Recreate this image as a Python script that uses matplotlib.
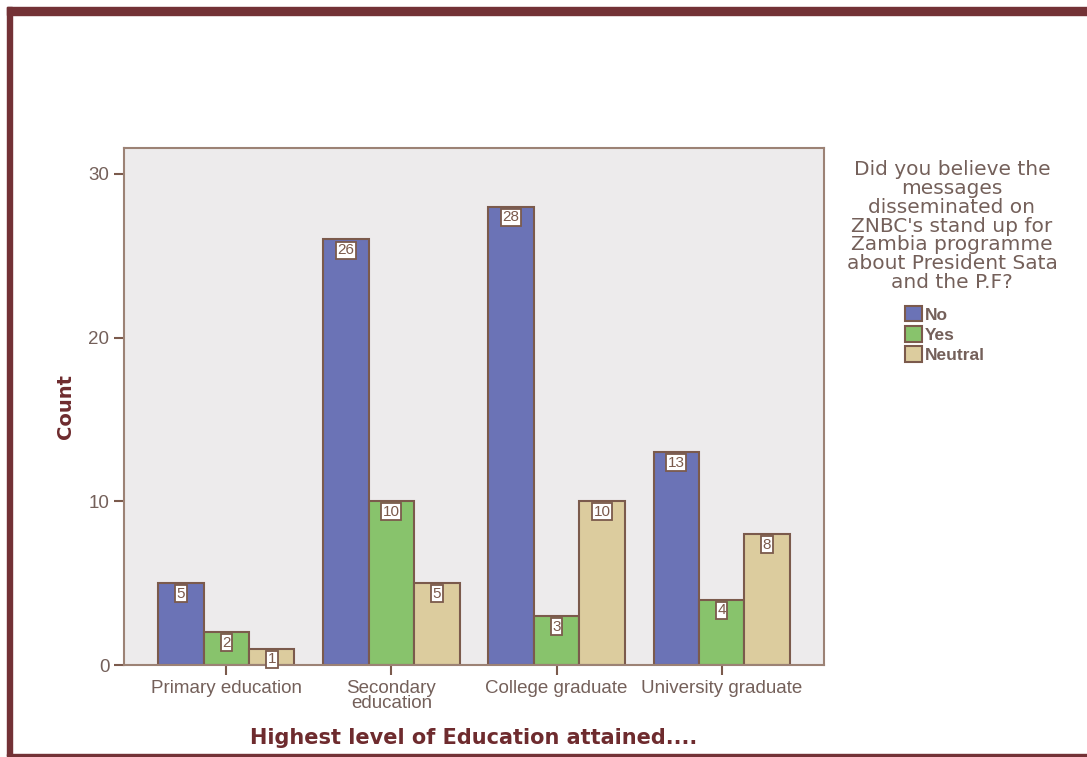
import numpy as np
import matplotlib.pyplot as plt
from matplotlib.patches import Rectangle

# survey counts by education level
categories = ["Primary education", "Secondary\neducation", "College graduate", "University graduate"]
responses = ["No", "Yes", "Neutral"]
no_counts = [5, 26, 28, 13]
yes_counts = [2, 10, 3, 4]
neutral_counts = [1, 5, 10, 8]
legend_title = ("Did you believe the\nmessages\ndisseminated on\nZNBC's stand up for\n"
                "Zambia programme\nabout President Sata\nand the P.F?")

colors = ["#6b73b6", "#88c36c", "#dccc9e"]
edge = "#7b5a4c"
text_col = "#74605a"
title_col = "#6e2b2e"
frame_col = "#733236"
arial = "Liberation Sans"

fig = plt.figure(figsize=(10.87, 7.57), dpi=100)

# outer frame: thick top and left, thin bottom
W, H = 1087, 757
fig.patches.append(Rectangle((7 / W, 1 - 15 / H), 1 - 7 / W, 8 / H, transform=fig.transFigure,
                             color=frame_col, zorder=0))
fig.patches.append(Rectangle((7 / W, 1 - 756 / H), 5 / W, (756 - 7) / H, transform=fig.transFigure,
                             color=frame_col, zorder=0))
fig.patches.append(Rectangle((7 / W, 1 - 756 / H), 1 - 7 / W, 2 / H, transform=fig.transFigure,
                             color=frame_col, zorder=0))

ax = fig.add_axes([124 / W, 1 - 665 / H, (824 - 124) / W, (665 - 148) / H])
ax.set_facecolor("#edebec")

x = np.arange(len(categories))
width = 0.275
series = [no_counts, yes_counts, neutral_counts]
for i, (vals, c, name) in enumerate(zip(series, colors, responses)):
    pos = x + (i - 1) * width
    bars = ax.bar(pos, vals, width, color=c, edgecolor=edge, linewidth=1.5, label=name, zorder=2)
    for b, v in zip(bars, vals):
        ax.text(b.get_x() + b.get_width() / 2, v - 0.22, str(v), ha="center", va="top",
                fontsize=11, color=edge, zorder=3, family=arial,
                bbox=dict(boxstyle="square,pad=0.1", fc="white", ec=edge, lw=1.3))

ax.set_xlim(-0.62, 3.62)
ax.set_ylim(0, 30 * (665 - 148) / (665 - 174))
ax.set_yticks([0, 10, 20, 30])
ax.set_xticks(x)
ax.set_xticklabels(categories, linespacing=0.85)
ax.tick_params(axis="both", colors=edge, labelcolor=text_col, labelsize=13.5, length=7, width=1.5)
for lab in ax.get_xticklabels() + ax.get_yticklabels():
    lab.set_family(arial)
for s in ax.spines.values():
    s.set_color("#9c8275")
    s.set_linewidth(1.5)

ax.set_ylabel("Count", fontsize=14, fontweight="bold", color=title_col, labelpad=10)
ax.set_xlabel("Highest level of Education attained....", fontsize=15, fontweight="bold",
              color=title_col, labelpad=12)

# legend title drawn on its own so the entries can sit a little lower
fig.text(952 / W, 1 - 160 / H, legend_title, ha="center", va="top", multialignment="center",
         family="DejaVu Sans", fontsize=14.5, color=text_col, linespacing=0.99)

leg = fig.legend(loc="upper left", bbox_to_anchor=(898 / W, 1 - 299 / H),
                 frameon=False, prop={"family": arial, "size": 12.5, "weight": "bold"},
                 handlelength=1.0, handleheight=1.0, handletextpad=0.15, labelspacing=0.2,
                 borderaxespad=0)
for t in leg.get_texts():
    t.set_color(text_col)
for h in leg.legend_handles:
    h.set_linewidth(1.5)

fig.savefig("out.png", dpi=100)
